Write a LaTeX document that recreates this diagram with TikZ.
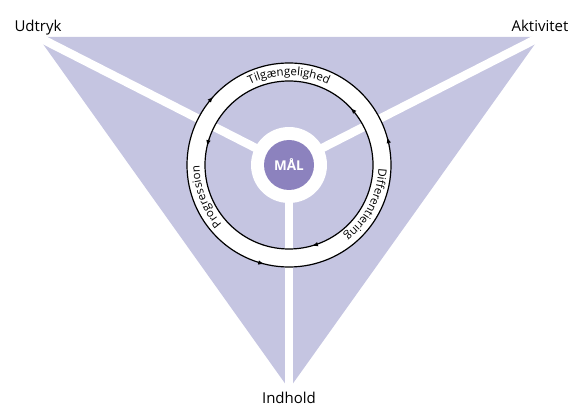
\documentclass[tikz,border=0pt]{standalone}
\usepackage{fontspec}
\setmainfont{Open Sans}
\usetikzlibrary{arrows.meta,decorations.markings,decorations.text}
\definecolor{wedge}{HTML}{C5C5E1}
\definecolor{goal}{HTML}{8C82BE}

\tikzset{
  stripe/.style={white, line width=8.5pt},
  rim/.style={draw=black, line width=1.2pt},
  ringtip/.tip={Latex[length=6pt,width=4.5pt]},
  corner label/.style={font=\fontsize{15}{18}\selectfont, inner sep=0pt, anchor=base},
  ring text/.style={decorate, decoration={text along path, text align=center,
      text={|\fontsize{11.5}{13}\selectfont|#1}}},
}

\begin{document}
\begin{tikzpicture}[x=1pt,y=1pt]
\useasboundingbox (0,0) rectangle (577,407);
\coordinate (C) at (289,242);
\coordinate (udtryk corner) at (38,370);
\coordinate (aktivitet corner) at (540,370);
\coordinate (indhold corner) at (289,18);
% triangle and stripes
\fill[wedge] (udtryk corner) -- (aktivitet corner) -- (indhold corner) -- cycle;
\draw[stripe] (C) -- (udtryk corner);
\draw[stripe] (C) -- (aktivitet corner);
\draw[stripe] (C) -- (indhold corner);
\fill[white] (C) circle[radius=38];
\node[circle, fill=goal, minimum size=50pt, inner sep=0pt, text=white,
  font=\fontsize{13.5}{15}\selectfont\bfseries] (maal) at (C) {MÅL};
% ring
\fill[white, even odd rule] (C) circle[radius=102] (C) circle[radius=84];
\draw[rim, postaction={decorate}, decoration={markings,
    mark=at position 0.044 with {\arrow{ringtip}},
    mark=at position 0.383 with {\arrowreversed{ringtip}},
    mark=at position 0.711 with {\arrow{ringtip}}}] (C) circle[radius=102];
\draw[rim, postaction={decorate}, decoration={markings,
    mark=at position 0.119 with {\arrow{ringtip}},
    mark=at position 0.464 with {\arrow{ringtip}},
    mark=at position 0.794 with {\arrowreversed{ringtip}}}] (C) circle[radius=84];
\path[ring text=Tilgængelighed] (C) ++(135:89.5) arc[start angle=135, end angle=45, radius=89.5];
\path[ring text=Differentiering] (C) ++(18:89.5) arc[start angle=18, end angle=-72, radius=89.5];
\path[ring text=Progression] (C) ++(246:89.5) arc[start angle=246, end angle=156, radius=89.5];
% labels
\node[corner label] (udtryk) at (38,375) {Udtryk};
\node[corner label] (aktivitet) at (540,375) {Aktivitet};
\node[corner label] (indhold) at (289,3.5) {Indhold};
\end{tikzpicture}
\end{document}
